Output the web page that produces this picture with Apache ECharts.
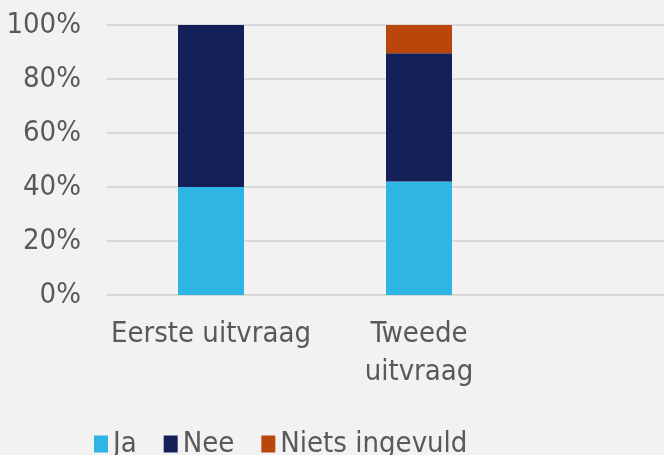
<!DOCTYPE html>
<html>
<head>
<meta charset="utf-8">
<script src="https://cdn.jsdelivr.net/npm/echarts@6/dist/echarts.min.js"></script>
<style>
  html, body { margin: 0; padding: 0; background: #f2f2f2; }
  #chart { width: 664px; height: 455px; }
</style>
</head>
<body>
<div id="chart"></div>
<script>
  // categorieën en waarden (percentages)
  const categories = ['Eerste uitvraag', 'Tweede\nuitvraag']
  const ja = [40, 42]
  const nee = [60, 47.5]
  const nietsIngevuld = [0, 10.5]
  const yTicks = [0, 20, 40, 60, 80, 100]

  const font = '"DejaVu Sans Condensed", "DejaVu Sans", Verdana, sans-serif'
  const textColor = '#595959'

  const chart = echarts.init(document.getElementById('chart'))
  chart.setOption({
    backgroundColor: '#f2f2f2',
    animation: false,
    textStyle: { fontFamily: font },
    color: ['#2eb5e3', '#162058', '#ba460c'],
    legend: {
      left: 89,
      top: 424,
      itemWidth: 14,
      itemHeight: 17,
      itemGap: 27,
      icon: 'rect',
      data: ['Ja', 'Nee', 'Niets ingevuld'],
      textStyle: { fontFamily: font, fontSize: 29, color: textColor, lineHeight: 30 }
    },
    grid: [
      /** staven */
      { left: 107, width: 416, top: 25, bottom: 160 },
      /** rasterlijnen over de volle breedte */
      { left: 107, right: 0, top: 25, bottom: 160 }
    ],
    xAxis: [
      {
        type: 'category',
        gridIndex: 0,
        data: categories,
        axisLine: { show: false },
        axisTick: { show: false },
        axisLabel: {
          interval: 0,
          hideOverlap: false,
          margin: 20,
          fontFamily: font,
          fontSize: 29,
          lineHeight: 38,
          color: textColor,
          verticalAlign: 'top'
        }
      },
      { type: 'value', gridIndex: 1, show: false, min: 0, max: 1 }
    ],
    yAxis: [
      {
        type: 'value',
        gridIndex: 0,
        min: 0,
        max: 100,
        interval: 20,
        splitLine: { show: false },
        axisLine: { show: false },
        axisTick: { show: false },
        axisLabel: {
          margin: 26,
          fontFamily: font,
          fontSize: 29,
          color: textColor,
          padding: [8, 0, 0, 0],
          formatter: v => (yTicks.includes(v) ? v + '%' : '')
        }
      },
      {
        type: 'value',
        gridIndex: 1,
        min: 0,
        max: 100,
        interval: 20,
        axisLine: { show: false },
        axisTick: { show: false },
        axisLabel: { show: false },
        splitLine: { lineStyle: { color: '#d9d9d9', width: 2 } }
      }
    ],
    series: [
      { name: 'Ja', type: 'bar', stack: 'totaal', barWidth: 66, data: ja },
      { name: 'Nee', type: 'bar', stack: 'totaal', data: nee },
      { name: 'Niets ingevuld', type: 'bar', stack: 'totaal', data: nietsIngevuld }
    ]
  })
</script>
</body>
</html>
